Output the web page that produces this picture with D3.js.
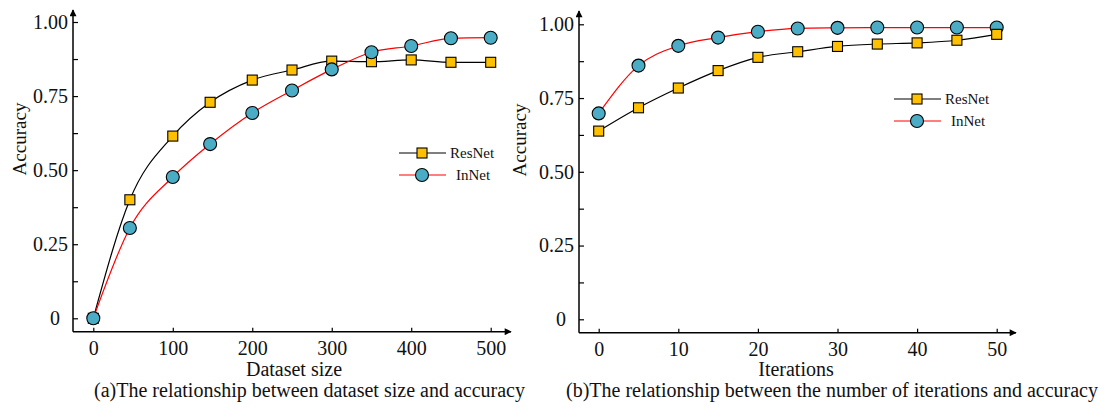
<!DOCTYPE html>
<html>
<head>
<meta charset="utf-8">
<script src="https://cdn.jsdelivr.net/npm/d3@7"></script>
<style>
  body { margin: 0; background: #fff; }
  svg { display: block; font-family: "Liberation Serif", "Times New Roman", serif; }
</style>
</head>
<body>
<svg id="chart" width="1110" height="417"></svg>
<script>
// left panel: dataset size vs accuracy
const datasetSizes = [0, 46, 100, 147, 200, 250, 300, 350, 400, 450, 500];
const resnetBySize = [0, 0.40, 0.615, 0.729, 0.804, 0.838, 0.868, 0.866, 0.872, 0.864, 0.864];
const innetBySize = [0, 0.305, 0.477, 0.588, 0.693, 0.769, 0.840, 0.898, 0.919, 0.945, 0.947];
const sizeTicks = [0, 100, 200, 300, 400, 500];

// right panel: iterations vs accuracy
const iterations = [0, 5, 10, 15, 20, 25, 30, 35, 40, 45, 50];
const resnetByIter = [0.638, 0.717, 0.784, 0.843, 0.888, 0.907, 0.925, 0.933, 0.937, 0.946, 0.966];
const innetByIter = [0.698, 0.860, 0.927, 0.955, 0.975, 0.986, 0.988, 0.989, 0.989, 0.989, 0.989];
const iterTicks = [0, 10, 20, 30, 40, 50];

const accTicks = [0, 0.25, 0.5, 0.75, 1];
const accMinor = [0.125, 0.375, 0.625, 0.875];

const seriesNames = ['ResNet', 'InNet'];
const squareFill = '#FFC000';
const circleFill = '#4BACC6';
const serif = '"Liberation Serif", "Times New Roman", serif';

const svg = d3.select('#chart');

const defs = svg.append('defs');
defs.append('marker')
  .attr('id', 'arrow')
  .attr('viewBox', '0 0 10 10')
  .attr('refX', 9)
  .attr('refY', 5)
  .attr('markerWidth', 9)
  .attr('markerHeight', 7)
  .attr('markerUnits', 'userSpaceOnUse')
  .attr('orient', 'auto')
  .append('path')
  .attr('d', 'M0,0L10,5L0,10Z')
  .attr('fill', '#000');

function styleAxis(ax) {
  ax.attr('font-family', serif).attr('font-size', 20);
  ax.select('.domain').remove();
  ax.selectAll('.tick line').attr('stroke', '#000').attr('stroke-width', 1.2);
  ax.selectAll('.tick text').attr('fill', '#111');
}

function drawPanel(cfg) {
  const g = svg.append('g');
  const x = d3.scaleLinear().domain(cfg.xDomain).range(cfg.xRange);
  const y = d3.scaleLinear().domain([0, 1]).range(cfg.yRange);

  // y axis ticks (inside), labels left
  const yAxis = g.append('g')
    .attr('transform', `translate(${cfg.axisX},0)`)
    .call(d3.axisLeft(y).tickValues(accTicks).tickSize(-5).tickPadding(5)
      .tickFormat((d) => (d === 0 ? '0' : d3.format('.2f')(d))));
  styleAxis(yAxis);
  yAxis.selectAll('.tick').filter((d) => d === 0).select('text').attr('x', -13);

  const yMinor = g.append('g')
    .attr('transform', `translate(${cfg.axisX},0)`)
    .call(d3.axisLeft(y).tickValues(accMinor).tickSize(-5).tickFormat(''));
  styleAxis(yMinor);

  const xAxis = g.append('g')
    .attr('transform', `translate(0,${cfg.axisY})`)
    .call(d3.axisBottom(x).tickValues(cfg.xTicks).tickSize(-4).tickPadding(9));
  styleAxis(xAxis);

  // axis lines with arrows
  g.append('line')
    .attr('x1', cfg.axisX).attr('y1', cfg.axisY)
    .attr('x2', cfg.axisX).attr('y2', cfg.yTop)
    .attr('stroke', '#000').attr('stroke-width', 1.5)
    .attr('marker-end', 'url(#arrow)');
  g.append('line')
    .attr('x1', cfg.axisX).attr('y1', cfg.axisY)
    .attr('x2', cfg.xEnd).attr('y2', cfg.axisY)
    .attr('stroke', '#000').attr('stroke-width', 1.5)
    .attr('marker-end', 'url(#arrow)');

  // axis titles
  g.append('text')
    .attr('transform', `translate(${cfg.yTitleX},${cfg.yTitleY}) rotate(-90)`)
    .attr('text-anchor', 'middle')
    .attr('dy', '0.35em')
    .attr('font-size', 19)
    .attr('fill', '#111')
    .text('Accuracy');
  g.append('text')
    .attr('x', cfg.xTitleX).attr('y', 376)
    .attr('text-anchor', 'middle')
    .attr('font-size', 20)
    .attr('fill', '#111')
    .text(cfg.xTitle);
  g.append('text')
    .attr('x', cfg.captionX).attr('y', 397)
    .attr('text-anchor', 'middle')
    .attr('font-size', 20)
    .attr('fill', '#111')
    .text(cfg.caption);

  const line = d3.line()
    .x((d) => x(d[0]))
    .y((d) => y(d[1]))
    .curve(d3.curveMonotoneX);

  const res = cfg.xs.map((v, i) => [v, cfg.res[i]]);
  const inn = cfg.xs.map((v, i) => [v, cfg.inn[i]]);

  g.append('path').datum(res).attr('d', line)
    .attr('fill', 'none').attr('stroke', '#000').attr('stroke-width', 1.2);
  g.append('path').datum(inn).attr('d', line)
    .attr('fill', 'none').attr('stroke', '#ff0000').attr('stroke-width', 1.2);

  function squares(sel, data) {
    sel.selectAll(null).data(data).enter().append('rect')
      .attr('x', (d) => x(d[0]) - 5)
      .attr('y', (d) => y(d[1]) - 5)
      .attr('width', 10).attr('height', 10)
      .attr('fill', squareFill).attr('stroke', '#000').attr('stroke-width', 1.1);
  }
  function circles(sel, data) {
    sel.selectAll(null).data(data).enter().append('circle')
      .attr('cx', (d) => x(d[0]))
      .attr('cy', (d) => y(d[1]))
      .attr('r', 6.5)
      .attr('fill', circleFill).attr('stroke', '#000').attr('stroke-width', 1.1);
  }
  const marks = g.append('g');
  if (cfg.circlesOnTop) {
    squares(marks.append('g'), res);
    circles(marks.append('g'), inn);
  } else {
    circles(marks.append('g'), inn);
    squares(marks.append('g'), res);
  }

  // legend
  const lg = g.append('g').attr('transform', `translate(${cfg.legendX},${cfg.legendY})`);
  seriesNames.forEach((name, i) => {
    const row = lg.append('g').attr('transform', `translate(0,${i * 22})`);
    row.append('line').attr('x1', 0).attr('x2', 47)
      .attr('stroke', i === 0 ? '#000' : '#ff0000').attr('stroke-width', 1.2);
    if (i === 0) {
      row.append('rect').attr('x', 18).attr('y', -5).attr('width', 10).attr('height', 10)
        .attr('fill', squareFill).attr('stroke', '#000').attr('stroke-width', 1.1);
    } else {
      row.append('circle').attr('cx', 23).attr('cy', 0).attr('r', 6.5)
        .attr('fill', circleFill).attr('stroke', '#000').attr('stroke-width', 1.1);
    }
    row.append('text')
      .attr('x', i === 0 ? 51 : 57)
      .attr('dy', '0.35em')
      .attr('font-size', 15)
      .attr('fill', '#111')
      .text(name);
  });
}

drawPanel({
  xDomain: [0, 500], xRange: [93.3, 490.7], yRange: [318.3, 22],
  axisX: 73, axisY: 331.7, yTop: 10, xEnd: 511,
  xTicks: sizeTicks, xs: datasetSizes, res: resnetBySize, inn: innetBySize,
  yTitleX: 19.5, yTitleY: 139, xTitleX: 294, xTitle: 'Dataset size',
  captionX: 309.5, caption: '(a)The relationship between dataset size and accuracy',
  legendX: 399, legendY: 153, circlesOnTop: true
});

drawPanel({
  xDomain: [0, 50], xRange: [598.7, 996.7], yRange: [319.3, 24.3],
  axisX: 579, axisY: 332.7, yTop: 11, xEnd: 1016,
  xTicks: iterTicks, xs: iterations, res: resnetByIter, inn: innetByIter,
  yTitleX: 519.5, yTitleY: 140, xTitleX: 796, xTitle: 'Iterations',
  captionX: 832, caption: '(b)The relationship between the number of iterations and accuracy',
  legendX: 894, legendY: 99, circlesOnTop: false
});
</script>
</body>
</html>
